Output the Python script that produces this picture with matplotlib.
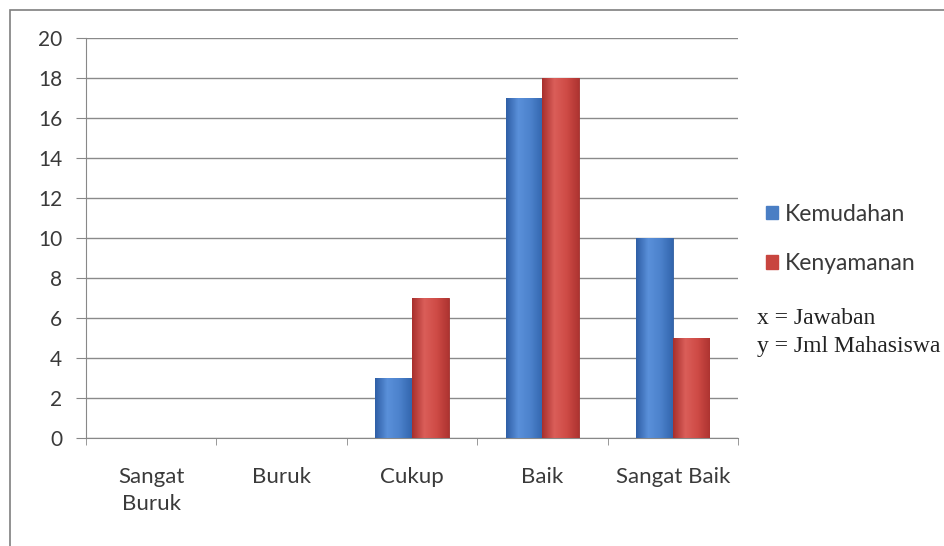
import numpy as np
import matplotlib
matplotlib.use("Agg")
import matplotlib.pyplot as plt
from matplotlib.colors import LinearSegmentedColormap
from matplotlib.patches import Rectangle

categories = ["Sangat\nBuruk", "Buruk", "Cukup", "Baik", "Sangat Baik"]
kemudahan = [0, 0, 3, 17, 10]
kenyamanan = [0, 0, 7, 18, 5]
series_names = ["Kemudahan", "Kenyamanan"]
y_ticks = list(range(0, 21, 2))

BLUE = "#4A7EC4"
RED = "#C8453F"
blue_grad = LinearSegmentedColormap.from_list(
    "blue_grad", ["#2F5FA6", "#5A90DA", "#4C82CC", "#3366AE"])
red_grad = LinearSegmentedColormap.from_list(
    "red_grad", ["#A8302D", "#DA5E59", "#CF4B46", "#AE3431"])

plt.rcParams["font.family"] = ["Lato", "DejaVu Sans"]

fig = plt.figure(figsize=(9.44, 5.46), dpi=100)
ax = fig.add_axes([0.0911, 0.1978, 0.6907, 0.7326])

x = np.arange(len(categories))
w = 0.28
bars_a = ax.bar(x - w / 2, kemudahan, w, color=BLUE, edgecolor="#2F5C9E",
                linewidth=0.6, zorder=3, label=series_names[0])
bars_b = ax.bar(x + w / 2, kenyamanan, w, color=RED, edgecolor="#9E2F2C",
                linewidth=0.6, zorder=3, label=series_names[1])

# horizontal shading across each bar
grad = np.linspace(0, 1, 64).reshape(1, -1)
for bars, cmap in ((bars_a, blue_grad), (bars_b, red_grad)):
    for b in bars:
        h = b.get_height()
        if h <= 0:
            continue
        x0 = b.get_x()
        ax.imshow(grad, cmap=cmap, aspect="auto", zorder=3.5,
                  extent=(x0, x0 + b.get_width(), 0, h), interpolation="bilinear")

ax.set_xlim(-0.5, len(categories) - 0.5)
ax.set_ylim(0, 20)
ax.set_yticks(y_ticks)
ax.set_xticks(x)
ax.set_xticklabels(categories, fontsize=16, color="#3A3A3A", linespacing=1.4)
ax.tick_params(axis="x", length=0, pad=21)
ax.set_xticks(np.arange(-0.5, len(categories), 1.0), minor=True)
ax.tick_params(axis="x", which="minor", length=5, color="#888888", direction="out")
ax.tick_params(axis="y", length=7, color="#888888", labelsize=15,
               labelcolor="#3A3A3A", pad=10)

ax.grid(axis="y", color="#8A8A8A", linewidth=1.0, zorder=0)
for side in ("top", "right"):
    ax.spines[side].set_visible(False)
ax.spines["left"].set_color("#888888")
ax.spines["bottom"].set_color("#888888")

handles = [Rectangle((0, 0), 1, 1, color=BLUE), Rectangle((0, 0), 1, 1, color=RED)]
fig.legend(handles, series_names, loc="upper left",
           bbox_to_anchor=(0.811, 0.627), frameon=False, fontsize=16.5,
           handlelength=0.55, handleheight=0.55, handletextpad=0.3,
           labelspacing=1.25, labelcolor="#3A3A3A", borderpad=0, borderaxespad=0)

fig.text(0.802, 0.406, "x = Jawaban", family=["Liberation Serif"], fontsize=17,
         color="#222222")
fig.text(0.802, 0.355, "y = Jml Mahasiswa", family=["Liberation Serif"],
         fontsize=17, color="#222222")

# outer chart border
fig.patches.append(Rectangle((0.0106, -0.05), 1.1, 1.032, transform=fig.transFigure,
                             fill=False, edgecolor="#7F7F7F", linewidth=1.2,
                             clip_on=False))

fig.savefig("out.png", dpi=100)
